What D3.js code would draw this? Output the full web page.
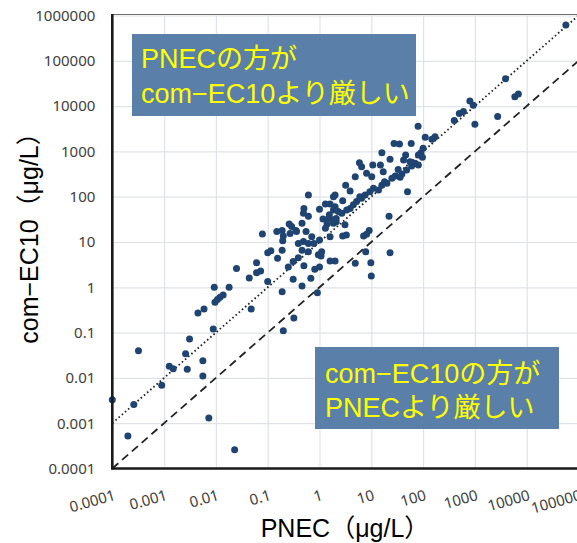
<!DOCTYPE html>
<html>
<head>
<meta charset="utf-8">
<script src="https://cdn.jsdelivr.net/npm/d3@7"></script>
<style>
body { margin: 0; background: #fff; }
svg { display: block; font-family: "Liberation Sans", "Noto Sans CJK JP", sans-serif; }
</style>
</head>
<body>
<svg id="chart" width="577" height="543"></svg>
<script>
// axis ticks
const xTicks = [1e-4, 1e-3, 1e-2, 1e-1, 1, 10, 100, 1e3, 1e4, 1e5];
const xLabels = ["0.0001", "0.001", "0.01", "0.1", "1", "10", "100", "1000", "10000", "100000"];
const yTicks = [1e-4, 1e-3, 1e-2, 1e-1, 1, 10, 100, 1e3, 1e4, 1e5, 1e6];
const yLabels = ["0.0001", "0.001", "0.01", "0.1", "1", "10", "100", "1000", "10000", "100000", "1000000"];

// [PNEC, com-EC10] in ug/L
const points = [
  [0.0001, 0.0033], [0.00032, 0.04], [0.00026, 0.0026], [0.0002, 0.00052], [0.0009, 0.0069],
  [0.00126, 0.018], [0.0015, 0.016], [0.0026, 0.034], [0.0031, 0.072], [0.0028, 0.0155],
  [0.0056, 0.024], [0.0056, 0.011], [0.0073, 0.0013], [0.023, 0.00026], [0.0089, 0.12],
  [0.0045, 0.27], [0.0059, 0.33], [0.0096, 0.47], [0.0107, 0.54], [0.012, 0.6],
  [0.0138, 0.68], [0.0093, 1.0], [0.018, 1.0], [0.048, 0.33], [0.025, 2.6],
  [0.044, 1.6], [0.061, 3.5], [0.061, 2.1], [0.073, 2.3], [0.1, 5.8], [0.1, 1.35],
  [0.61, 109], [2.0, 109], [0.5, 55], [0.61, 37], [1.0, 53], [1.3, 69], [1.6, 69], [2.0, 60], [1.55, 40],
  [1.17, 32], [1.4, 25], [1.86, 26], [2.1, 33], [0.26, 25], [0.29, 22], [0.46, 26], [0.15, 17], [0.19, 18], [0.079, 15],
  [0.2, 13.5], [0.27, 15.5], [0.35, 18], [0.195, 10.7], [0.55, 17], [0.39, 9.3], [0.49, 10.2], [0.61, 9.3], [0.71, 13], [0.78, 9.3],
  [1.0, 11], [0.46, 6.6], [0.61, 6.1], [0.115, 6.4], [0.19, 6.6], [0.155, 4.4], [0.31, 3.7], [0.39, 4.5], [0.25, 2.8], [0.5, 3.0],
  [1.07, 4.9], [1.6, 3.8], [2.0, 3.8], [1.0, 2.8], [0.81, 2.5], [0.31, 1.5], [0.46, 1.07], [0.68, 1.58], [0.19, 0.8], [0.91, 0.76],
  [0.32, 0.21], [0.2, 0.11], [0.95, 5.2], [0.49, 43], [0.36, 17],
  [16, 935], [5.9, 560], [6.5, 460], [10.7, 500], [15, 500], [4.9, 275], [8.1, 330], [10.2, 275], [17, 355], [18, 215],
  [3.2, 180], [3.9, 134], [1.86, 100], [2.8, 81], [6.0, 100], [11, 154], [9.4, 129], [7.6, 109], [6.5, 92], [5.2, 78],
  [4.5, 66], [3.9, 55], [3.35, 51], [2.7, 43], [2.3, 47], [1.86, 51], [1.5, 33], [1.86, 31], [2.1, 28], [13.8, 141],
  [16, 180], [20, 198], [3.1, 24], [1.3, 20], [1.6, 13], [2.8, 13.5], [9.1, 18], [7.1, 13.5], [1.1, 6.1], [3.3, 14.3],
  [4.9, 3.4], [7.8, 6.1], [9.8, 3.5], [23, 5.8], [8.1, 14.8], [22, 37], [10, 1.78],
  [400, 4800], [80, 3600], [170, 2100], [148, 1850], [110, 2050], [27.5, 1500], [35, 1450], [59, 1500], [46, 830], [100, 1170],
  [91, 935], [81, 830], [97, 740], [23, 670], [42, 650], [56, 590], [70, 550], [81, 500], [60, 475], [33, 400],
  [48, 390], [39, 316], [29, 288], [25, 256], [36, 270], [50, 129],
  [57000, 620000], [3900, 40000], [5900, 16000], [6900, 18500], [800, 13000], [930, 10500], [600, 7600], [500, 6900], [2750, 5900], [1000, 4000]
];

const noteUpper = ["PNECの方が", "com−EC10より厳しい"];
const noteLower = ["com−EC10の方が", "PNECより厳しい"];

const svg = d3.select("#chart");
const plotLeft = 112.3, plotRight = 578.5, plotTop = 15.5, plotBottom = 468.5;

const x = d3.scaleLog().domain([1e-4, 1e5]).range([plotLeft, plotRight]);
const y = d3.scaleLog().domain([1e-4, 1e6]).range([plotBottom, plotTop]);

// grid
svg.append("g")
    .attr("transform", `translate(0,${plotBottom})`)
    .call(d3.axisBottom(x).tickValues(xTicks).tickSize(-(plotBottom - plotTop)).tickFormat(""))
    .call(g => g.select(".domain").remove())
    .selectAll("line").attr("stroke", "#dfe3e7").attr("stroke-width", 1.2);

svg.append("g")
    .attr("transform", `translate(${plotLeft},0)`)
    .call(d3.axisLeft(y).tickValues(yTicks).tickSize(-(plotRight - plotLeft)).tickFormat(""))
    .call(g => g.select(".domain").remove())
    .selectAll("line").attr("stroke", "#dfe3e7").attr("stroke-width", 1.2);

// plot frame top
svg.append("line")
    .attr("x1", plotLeft).attr("x2", 577).attr("y1", plotTop - 1).attr("y2", plotTop - 1)
    .attr("stroke", "#6e6e6e").attr("stroke-width", 1.2);

// reference lines: y = 10x (dotted) and y = x (dashed)
const ends = [xTicks[0], xTicks[xTicks.length - 1]];
const line = d3.line().x(d => x(d[0])).y(d => y(d[1]));
svg.append("path")
    .datum(ends.map(d => [d, d * 10]))
    .attr("d", line)
    .attr("fill", "none").attr("stroke", "#222").attr("stroke-width", 1.8)
    .attr("stroke-dasharray", "1.6,2.6");
svg.append("path")
    .datum(ends.map(d => [d, d]))
    .attr("d", line)
    .attr("fill", "none").attr("stroke", "#222").attr("stroke-width", 1.8)
    .attr("stroke-dasharray", "8,5");

// points
svg.append("g").selectAll("circle")
    .data(points)
    .enter().append("circle")
    .attr("cx", d => x(d[0]))
    .attr("cy", d => y(d[1]))
    .attr("r", 3.5)
    .attr("fill", "#1f4472");

// axis lines
svg.append("line")
    .attr("x1", plotLeft).attr("x2", plotLeft).attr("y1", plotTop - 1.5).attr("y2", plotBottom + 1)
    .attr("stroke", "#1a1a1a").attr("stroke-width", 2.6);
svg.append("line")
    .attr("x1", plotLeft - 1).attr("x2", 577).attr("y1", plotBottom).attr("y2", plotBottom)
    .attr("stroke", "#1a1a1a").attr("stroke-width", 2.6);

// tick labels
const yAxis = svg.append("g")
    .attr("transform", `translate(${plotLeft},0)`)
    .call(d3.axisLeft(y).tickValues(yTicks).tickSize(0).tickPadding(17).tickFormat((d, i) => yLabels[i]));
yAxis.select(".domain").remove();
yAxis.selectAll("text")
    .attr("font-family", "'Noto Sans', sans-serif").attr("font-size", 15).attr("fill", "#404040");

// last label runs off the right edge, as in the source
const xAxis = svg.append("g")
    .attr("transform", `translate(0,${plotBottom})`)
    .call(d3.axisBottom(x).tickValues(xTicks).tickSize(0).tickFormat((d, i) => xLabels[i]));
xAxis.select(".domain").remove();
xAxis.selectAll("text")
    .attr("y", null).attr("dy", "0.35em")
    .attr("text-anchor", "end")
    .attr("transform", "translate(2,26) rotate(-16)")
    .attr("font-family", "'Noto Sans', sans-serif").attr("font-size", 15).attr("fill", "#404040");

// axis titles
svg.append("text")
    .attr("x", 345).attr("y", 537)
    .attr("text-anchor", "middle").attr("font-size", 25).attr("fill", "#000")
    .text("PNEC（μg/L）");
svg.append("text")
    .attr("transform", "translate(38,232) rotate(-90)")
    .attr("text-anchor", "middle").attr("font-size", 25).attr("fill", "#000")
    .text("com−EC10（μg/L）");

// annotation boxes
function note(bx, by, bw, bh, lines, tx, ty0, ty1) {
    svg.append("rect")
        .attr("x", bx).attr("y", by).attr("width", bw).attr("height", bh)
        .attr("fill", "#5a7fa8");
    svg.append("text")
        .attr("fill", "#ffff00").attr("font-size", 27)
        .selectAll("tspan").data(lines).enter().append("tspan")
        .attr("x", tx).attr("y", (d, i) => i === 0 ? ty0 : ty1)
        .text(d => d);
}
note(132, 34, 284, 82, noteUpper, 141, 68, 103);
note(315, 347, 244, 82, noteLower, 325, 383, 417);
</script>
</body>
</html>
